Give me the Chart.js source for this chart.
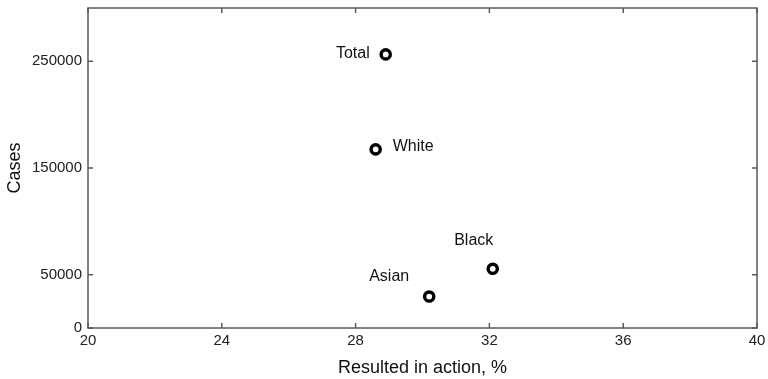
<html>
<head>
    <title>Cases vs resulted in action</title>
    <style>
        body { margin: 0; background: #fff; }
        #wrap { width: 768px; height: 379px; }
    </style>
    <script src="https://cdn.jsdelivr.net/npm/chart.js"></script>
</head>
<body>
<div id="wrap"><canvas id="c" width="768" height="379"></canvas></div>
<script>
    // data
    var groups = ['Total', 'White', 'Black', 'Asian'];
    var actionPct = [28.9, 28.6, 32.1, 30.2];
    var cases = [256500, 167500, 55500, 29500];
    var yTicks = [0, 50000, 150000, 250000];
    var xTicks = [20, 24, 28, 32, 36, 40];

    var FONT = 'Arial, "Liberation Sans", sans-serif';

    // where each name sits relative to its point
    var labelPlace = {
        Total: { dx: -16, dy: -1, align: 'right' },
        White: { dx: 17, dy: -3, align: 'left' },
        Black: { dx: -19, dy: -28, align: 'center' },
        Asian: { dx: -40, dy: -20, align: 'center' }
    };

    var points = [];
    for (var i = 0; i < groups.length; i++) {
        points.push({ x: actionPct[i], y: cases[i], name: groups[i] });
    }

    var frame = {
        id: 'frame',
        afterDatasetsDraw: function (chart) {
            var c = chart.ctx, a = chart.chartArea;
            var xs = chart.scales.x, ys = chart.scales.y;
            c.save();
            c.strokeStyle = '#5a5a5a';
            c.lineWidth = 1.5;
            c.strokeRect(a.left, a.top, a.right - a.left, a.bottom - a.top);
            c.beginPath();
            xTicks.forEach(function (v) {
                var px = xs.getPixelForValue(v);
                c.moveTo(px, a.bottom); c.lineTo(px, a.bottom - 5);
                c.moveTo(px, a.top); c.lineTo(px, a.top + 5);
            });
            yTicks.forEach(function (v) {
                var py = ys.getPixelForValue(v);
                c.moveTo(a.left, py); c.lineTo(a.left + 5, py);
                c.moveTo(a.right, py); c.lineTo(a.right - 5, py);
            });
            c.stroke();

            // point names
            c.fillStyle = '#111';
            c.font = '16px ' + FONT;
            c.textBaseline = 'middle';
            var meta = chart.getDatasetMeta(0);
            meta.data.forEach(function (el, k) {
                var p = labelPlace[groups[k]];
                c.textAlign = p.align;
                c.fillText(groups[k], el.x + p.dx, el.y + p.dy);
            });
            c.restore();
        }
    };

    new Chart(document.getElementById('c'), {
        type: 'scatter',
        data: {
            datasets: [{
                data: points,
                pointStyle: 'circle',
                pointRadius: 4.6,
                pointBorderWidth: 3.4,
                borderColor: '#000',
                backgroundColor: '#fff'
            }]
        },
        options: {
            responsive: false,
            animation: false,
            layout: { padding: { top: 7, right: 11, left: 0, bottom: 0 } },
            plugins: { legend: { display: false }, tooltip: { enabled: false } },
            scales: {
                x: {
                    type: 'linear',
                    min: 20, max: 40,
                    afterBuildTicks: function (s) { s.ticks = xTicks.map(function (v) { return { value: v }; }); },
                    afterFit: function (s) { s.height = 51; s.paddingLeft = 0; s.paddingRight = 0; },
                    grid: { display: false, drawTicks: false },
                    border: { display: false },
                    ticks: { color: '#222', font: { size: 15, family: FONT }, padding: 4, maxRotation: 0 },
                    title: { display: true, text: 'Resulted in action, %', color: '#111', font: { size: 18, family: FONT }, padding: { top: 0, bottom: 0 } }
                },
                y: {
                    type: 'linear',
                    min: 0, max: 300000,
                    afterBuildTicks: function (s) { s.ticks = yTicks.map(function (v) { return { value: v }; }); },
                    afterFit: function (s) { s.width = 88; s.paddingTop = 0; s.paddingBottom = 0; },
                    grid: { display: false, drawTicks: false },
                    border: { display: false },
                    ticks: { color: '#222', font: { size: 15, family: FONT }, padding: 6, callback: function (v) { return String(v); } },
                    title: { display: true, text: 'Cases', color: '#111', font: { size: 18, family: FONT }, padding: 4 }
                }
            }
        },
        plugins: [frame]
    });
</script>
</body>
</html>
